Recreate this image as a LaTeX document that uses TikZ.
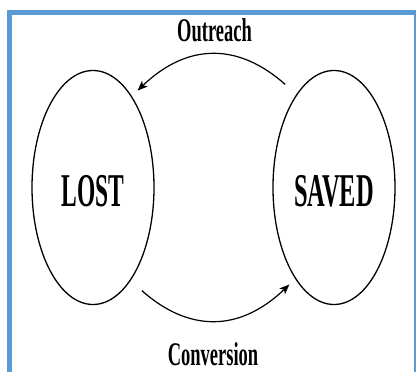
\documentclass[tikz,border=0pt]{standalone}
\usepackage{fontspec}
\setmainfont{Liberation Serif}
\usetikzlibrary{shapes.geometric,arrows.meta}
\definecolor{framecol}{HTML}{5B9BD5}
\tikzset{
  state/.style={ellipse, draw=black, line width=1.3pt, inner sep=0pt,
    minimum width=122pt, minimum height=234pt},
  arr/.style={line width=1.2pt, -{Stealth[length=10pt,width=8pt,inset=2.5pt]}},
  lbl/.style={inner sep=0pt}
}
\newcommand{\bigtxt}[2]{\raisebox{-3pt}[\height][0pt]{\scalebox{#1}[1]{\fontsize{47}{47}\selectfont\bfseries #2}}}
\newcommand{\smalltxt}[2]{\scalebox{#1}[1]{\fontsize{33}{33}\selectfont\bfseries #2}}
\begin{document}
\begin{tikzpicture}[x=1pt,y=-1pt]
\useasboundingbox (0,0) rectangle (416,372);
\clip (0,0) rectangle (416,372);
\fill[white] (0,0) rectangle (416,372);
\draw[framecol, line width=5pt] (9,400) -- (9,12) -- (416.5,12) -- (416.5,400);
\node[state] (lost) at (93,187.5) {\bigtxt{0.50}{LOST}};
\node[state] (saved) at (334,187.5) {\bigtxt{0.52}{SAVED}};
\node[lbl] (outreach) at (214.5,30) {\smalltxt{0.56}{Outreach}};
\node[lbl] (conversion) at (213,354.5) {\smalltxt{0.56}{Conversion}};
\draw[arr, shorten <=15pt, shorten >=8pt] (saved.112) .. controls +(-58,-51.5) and +(55.9,-53.5) .. (lost.67);
\draw[arr, shorten <=15pt, shorten >=8pt] (lost.-68) .. controls +(58,51.5) and +(-55.9,53.5) .. (saved.-113);
\end{tikzpicture}
\end{document}
